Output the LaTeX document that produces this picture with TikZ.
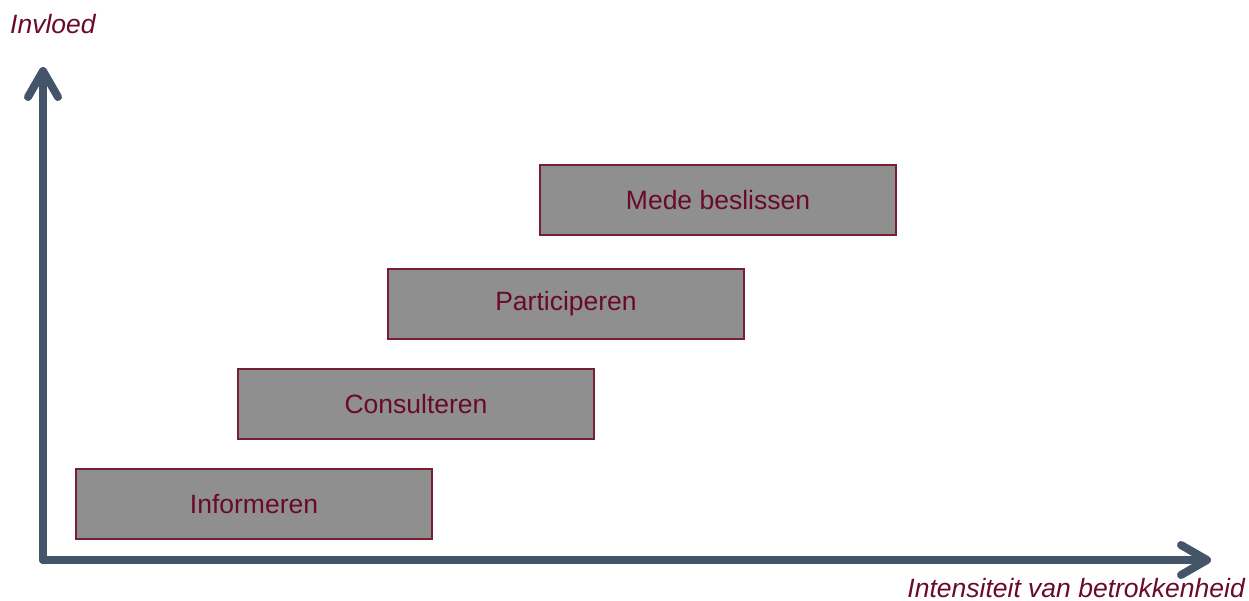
\documentclass[tikz,border=0pt]{standalone}
\usepackage{fontspec}
\setmainfont{Liberation Sans}
\usetikzlibrary{arrows.meta}
\definecolor{axisblue}{HTML}{44546A}
\definecolor{boxfill}{HTML}{8F8F8F}
\definecolor{boxline}{HTML}{7A1E32}
\definecolor{txtred}{HTML}{6A0A2A}
\tikzset{
  stepbox/.style={draw=boxline, line width=1.2pt, fill=boxfill, minimum width=356pt, minimum height=70pt, inner sep=0pt, text=txtred, font=\fontsize{26.5}{30}\selectfont, anchor=center},
  axisline/.style={draw=axisblue, line width=8pt, line cap=round, line join=round,
    -{Straight Barb[length=26pt, width=30pt, line cap=round, line join=round]}},
  axislabel/.style={text=txtred, font=\fontsize{26.5}{30}\selectfont\itshape, inner sep=0pt}
}
\begin{document}
\begin{tikzpicture}[x=1pt,y=-1pt]
\useasboundingbox (0,0) rectangle (1249,601);
\coordinate (o) at (43,560);
\coordinate (ytip) at (43,67);
\coordinate (xtip) at (1211,560);
\draw[axisline] (o) -- (ytip);
\draw[axisline] (o) -- (xtip);
\node[stepbox] (inf) at (254,504) {Informeren};
\node[stepbox] (con) at (416,404) {Consulteren};
\node[stepbox] (par) at (566,304) {Participeren};
\node[stepbox] (med) at (718,200) {Mede beslissen};
\node[axislabel, anchor=west] (yl) at (10,24) {Invloed};
\node[axislabel, anchor=east] (xl) at (1245,588) {Intensiteit van betrokkenheid};
\end{tikzpicture}
\end{document}
